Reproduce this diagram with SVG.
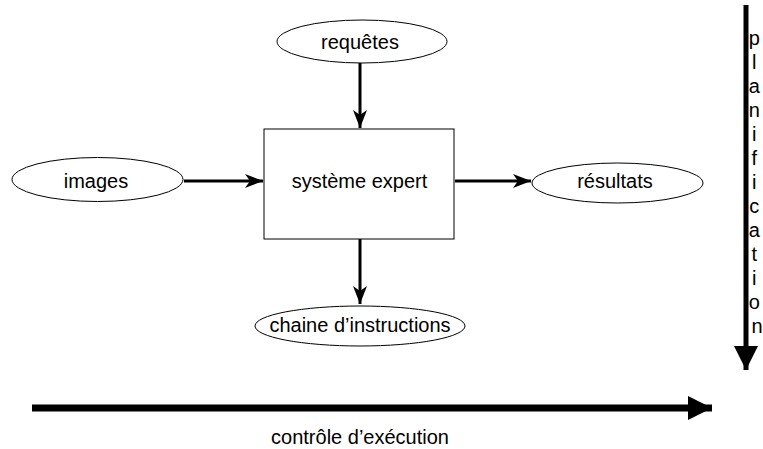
<svg xmlns="http://www.w3.org/2000/svg" width="763" height="449" viewBox="0 0 763 449">
<style>
.shape{fill:#ffffff;stroke:#000000;stroke-width:1}
.lbl{font-family:"Liberation Sans",Arial,Helvetica,sans-serif;font-size:20px;fill:#000000;text-anchor:middle}
.conn{stroke:#000000;stroke-width:3;fill:none}
.thick{stroke:#000000;fill:none}
</style>
<defs>
<marker id="arr" markerUnits="userSpaceOnUse" markerWidth="20" markerHeight="16" viewBox="-19 -8 20 16" refX="0" refY="0" orient="auto">
<path d="M0,0 L-18,-7 L-13,0 L-18,7 Z" fill="#000000"/>
</marker>
<marker id="big" markerUnits="userSpaceOnUse" markerWidth="26" markerHeight="26" viewBox="-25 -13 26 26" refX="0" refY="0" orient="auto">
<path d="M0,0 L-24,-12 L-24,12 Z" fill="#000000"/>
</marker>
</defs>
<rect width="763" height="449" fill="#ffffff"/>
<g id="connectors">
<line class="conn" x1="360" y1="63" x2="360" y2="128" marker-end="url(#arr)"/>
<line class="conn" x1="184" y1="181" x2="263" y2="181" marker-end="url(#arr)"/>
<line class="conn" x1="455" y1="181" x2="531" y2="181" marker-end="url(#arr)"/>
<line class="conn" x1="360" y1="239" x2="360" y2="304" marker-end="url(#arr)"/>
<line class="thick" stroke-width="7" x1="32" y1="408" x2="712" y2="408" marker-end="url(#big)"/>
<line class="thick" stroke-width="5" x1="746" y1="5" x2="746" y2="370" marker-end="url(#big)"/>
</g>
<g id="requetes">
<ellipse class="shape" cx="362" cy="41.5" rx="85" ry="21.5"/>
<text class="lbl" x="360" y="49">requêtes</text>
</g>
<g id="images">
<ellipse class="shape" cx="97.5" cy="179.5" rx="85.5" ry="22"/>
<text class="lbl" x="96" y="188">images</text>
</g>
<g id="systeme">
<rect class="shape" x="264" y="129" width="190" height="110"/>
<text class="lbl" x="359.5" y="188">système expert</text>
</g>
<g id="resultats">
<ellipse class="shape" cx="617.5" cy="183" rx="85.5" ry="20"/>
<text class="lbl" x="615" y="188">résultats</text>
</g>
<g id="chaine">
<ellipse class="shape" cx="360" cy="326" rx="105" ry="20"/>
<text class="lbl" x="360" y="332">chaine d’instructions</text>
</g>
<g id="controle">
<text class="lbl" x="360" y="444">contrôle d’exécution</text>
</g>
<g id="planification">
<text class="lbl" x="757">
<tspan x="757" y="45">p</tspan>
<tspan x="757" y="69">l</tspan>
<tspan x="757" y="93">a</tspan>
<tspan x="757" y="117">n</tspan>
<tspan x="757" y="141">i</tspan>
<tspan x="757" y="165">f</tspan>
<tspan x="757" y="189">i</tspan>
<tspan x="757" y="213">c</tspan>
<tspan x="757" y="237">a</tspan>
<tspan x="757" y="261">t</tspan>
<tspan x="757" y="285">i</tspan>
<tspan x="757" y="309">o</tspan>
<tspan x="757" y="333">n</tspan>
</text>
</g>
</svg>
